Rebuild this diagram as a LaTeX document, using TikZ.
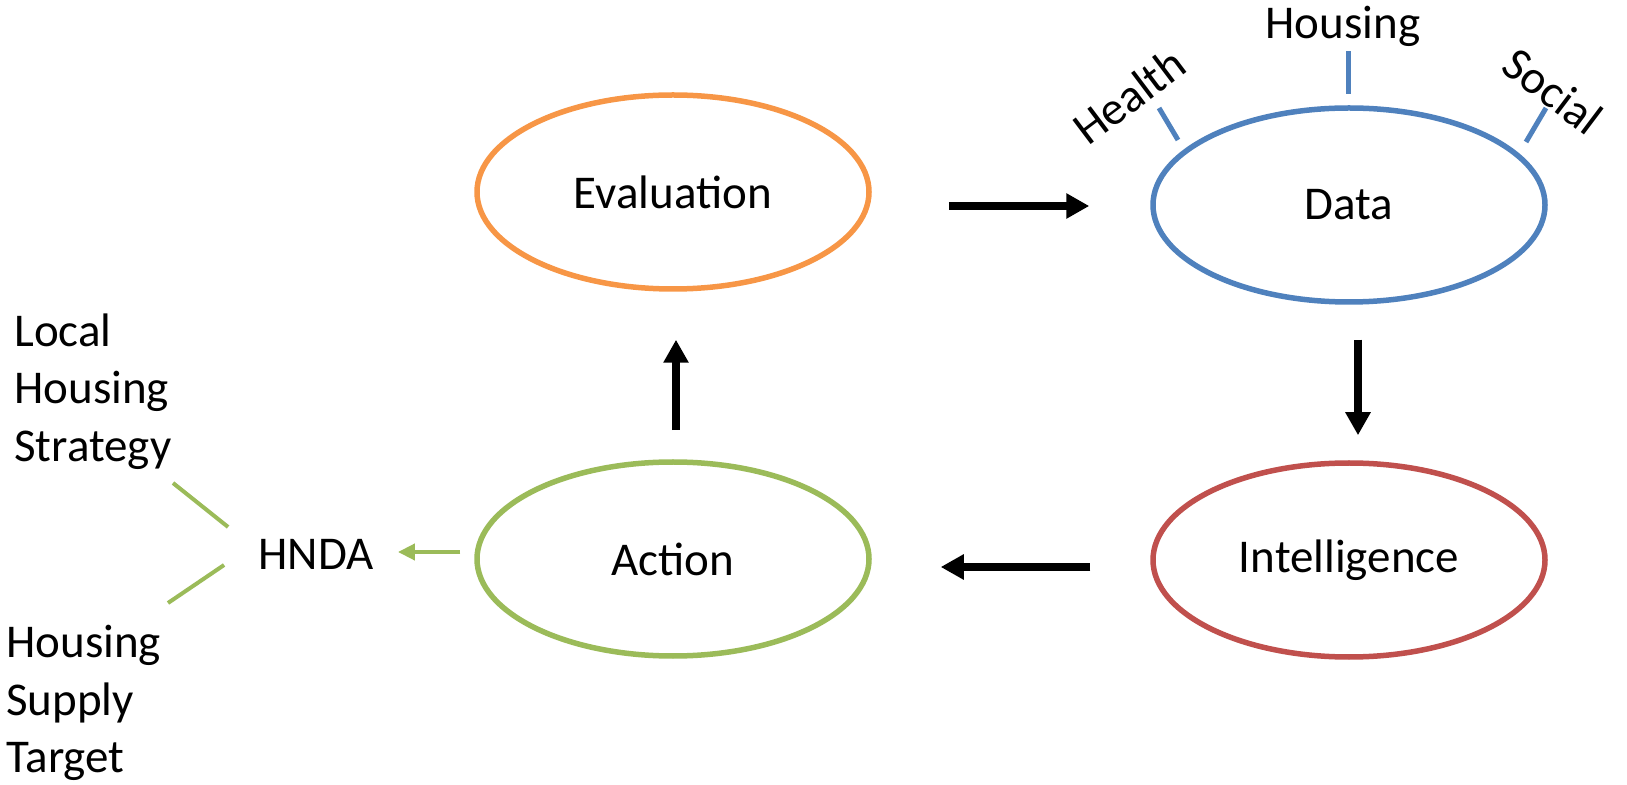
\documentclass[tikz,border=0pt]{standalone}
\usepackage{fontspec}
\setmainfont{Carlito}
\usepackage{tikz}
\usetikzlibrary{shapes.geometric, arrows.meta}
\definecolor{evalorange}{RGB}{247,150,70}
\definecolor{datablue}{RGB}{79,129,189}
\definecolor{intelred}{RGB}{192,80,77}
\definecolor{actgreen}{RGB}{155,187,89}
\tikzstyle{txt} = [inner sep=0pt, font=\fontsize{23.5pt}{28.75pt}\selectfont]
\tikzstyle{ell} = [ellipse, minimum width=196pt, minimum height=97pt, line width=2.75pt, txt]
\tikzstyle{arrow} = [line width=4pt, -{Triangle[length=11.5pt,width=12pt]}]
\tikzstyle{garrow} = [actgreen, line width=2pt, -{Triangle[length=8.5pt,width=8pt]}]
\tikzstyle{gline} = [actgreen, line width=2pt]
\tikzstyle{tick} = [datablue, line width=2.5pt]

\begin{document}
\begin{tikzpicture}[x=0.5pt, y=-0.5pt]
        \useasboundingbox (0,0) rectangle (1627,785);
        % the four stages
        \node (eval) [ell, draw=evalorange] at (673,192) {Evaluation};
        \node (data) [ell, draw=datablue] at (1349,205) {Data};
        \node (intel) [ell, draw=intelred] at (1349,560) {Intelligence};
        \node (action) [ell, draw=actgreen] at (673,559) {Action};
        % cycle
        \draw [arrow] ([shift={(77,14)}]eval.east) -- ([shift={(-61,1)}]data.west);
        \draw [arrow] ([shift={(9,35)}]data.south) -- ([shift={(9,-25)}]intel.north);
        \draw [arrow] ([shift={(-60,7)}]intel.west) -- ([shift={(69,8)}]action.east);
        \draw [arrow] ([shift={(3,-29)}]action.north) -- ([shift={(3,48)}]eval.south);
        % data sources
        \node (housing) [txt, anchor=base] at (1343,39) {Housing};
        \node (health) [txt, rotate=37] at (1129,96) {Health};
        \node (social) [txt, rotate=-37] at (1553,91) {Social};
        \draw [tick] ([shift={(-1,-111)}]data.center) -- ([shift={(-1,-154)}]data.center);
        \draw [tick] ([shift={(-171,-65)}]data.center) -- ([shift={(-190,-97)}]data.center);
        \draw [tick] ([shift={(177,-63)}]data.center) -- ([shift={(197,-97)}]data.center);
        % outputs of action
        \node (hnda) [txt] at (316,554) {HNDA};
        \node (lhs) [txt, align=left, anchor=north west] at (14,313) {Local\\Housing\\Strategy};
        \node (hst) [txt, align=left, anchor=north west] at (6,625) {Housing\\Supply\\Target};
        \coordinate (lhsend) at (173,483);
        \coordinate (hstend) at (168,603);
        \draw [garrow] ([shift={(-14,-7)}]action.west) -- ([shift={(24,-2)}]hnda.east);
        \draw [gline] ([shift={(-30,-27)}]hnda.west) -- (lhsend);
        \draw [gline] ([shift={(-34,11)}]hnda.west) -- (hstend);
    \end{tikzpicture}
\end{document}
